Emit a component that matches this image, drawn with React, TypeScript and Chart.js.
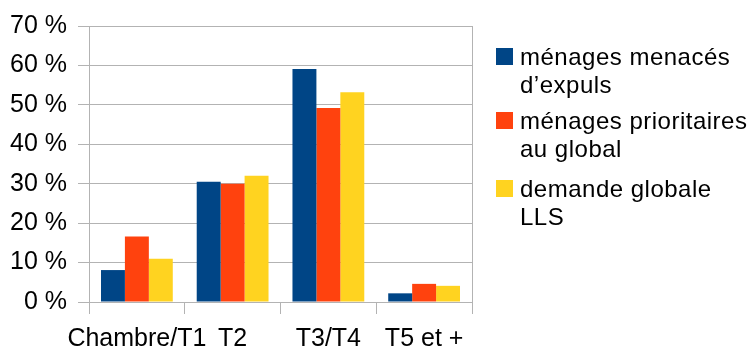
import React, { useEffect, useRef } from "react";
import { Chart, registerables } from "chart.js";

Chart.register(...registerables);

// Housing size categories and the share of each household group (in %)
const categories = ["Chambre/T1", "T2", "T3/T4", "T5 et +"];
const menacesExpulsion = [8.1, 30.5, 59.1, 2.2];
const prioritairesGlobal = [16.6, 30, 49.2, 4.6];
const demandeGlobale = [11, 32, 53.2, 4.1];
const seriesLabels = [
  ["ménages menacés", "d’expuls"],
  ["ménages prioritaires", "au global"],
  ["demande globale", "LLS"],
];
const seriesColors = ["#004586", "#ff420e", "#ffd320"];
const yTicks = [0, 10, 20, 30, 40, 50, 60, 70];

const FONT = '"Liberation Sans", Arial, sans-serif';
const GRID = "#b3b3b3";

export default function App() {
  const canvasRef = useRef<HTMLCanvasElement | null>(null);

  useEffect(() => {
    const canvas = canvasRef.current;
    if (!canvas) return;
    const chart = new Chart(canvas, {
      type: "bar",
      data: {
        labels: categories,
        datasets: [menacesExpulsion, prioritairesGlobal, demandeGlobale].map(
          (values, i) => ({
            label: seriesLabels[i].join(" "),
            data: values,
            backgroundColor: seriesColors[i],
            borderWidth: 0,
            barPercentage: 1,
            categoryPercentage: 0.75,
          })
        ),
      },
      options: {
        responsive: false,
        animation: false,
        devicePixelRatio: 1,
        layout: { padding: { left: 0, right: 283, top: 20, bottom: 0 } },
        plugins: {
          legend: { display: false },
          tooltip: { enabled: false },
        },
        scales: {
          x: {
            offset: true,
            grid: {
              offset: true,
              drawOnChartArea: true,
              // only the outer frame lines reach into the plot area
              color: (ctx: any) =>
                ctx.index === 0 || ctx.index === undefined ? GRID : "rgba(0,0,0,0)",
              tickColor: GRID,
              tickLength: 12,
              lineWidth: 1,
            },
            border: { color: GRID, width: 1 },
            ticks: {
              color: "#000",
              font: { family: FONT, size: 25 },
              padding: 10,
              maxRotation: 0,
              autoSkip: false,
            },
            afterFit: (scale: any) => {
              scale.height = 45;
            },
          },
          y: {
            min: yTicks[0],
            max: yTicks[yTicks.length - 1],
            afterBuildTicks: (scale: any) => {
              scale.ticks = yTicks.map((v) => ({ value: v }));
            },
            grid: {
              color: GRID,
              tickColor: GRID,
              tickLength: 11,
              lineWidth: 1,
            },
            border: { color: GRID, width: 1 },
            ticks: {
              color: "#000",
              font: { family: FONT, size: 25 },
              padding: 11,
              callback: (v: any) => `${v} %`,
            },
            afterFit: (scale: any) => {
              scale.width = 89;
            },
          },
        },
      },
    });
    return () => chart.destroy();
  }, []);

  const legendTops = [43, 107, 175];

  return (
    <div
      style={{
        position: "absolute",
        left: 0,
        top: 0,
        width: 755,
        height: 347,
        background: "#fff",
        fontFamily: FONT,
      }}
    >
      <canvas ref={canvasRef} width={755} height={347} style={{ width: 755, height: 347 }} />
      {seriesLabels.map((lines, i) => (
        <div
          key={i}
          style={{
            position: "absolute",
            left: 496,
            top: legendTops[i],
            display: "flex",
            alignItems: "flex-start",
          }}
        >
          <div
            style={{
              width: 17,
              height: 17,
              marginTop: 5,
              background: seriesColors[i],
              flex: "none",
            }}
          />
          <div
            style={{
              marginLeft: 7,
              fontSize: 24,
              letterSpacing: 0.5,
              lineHeight: "28px",
              color: "#000",
              whiteSpace: "nowrap",
            }}
          >
            {lines.map((t, j) => (
              <div key={j}>{t}</div>
            ))}
          </div>
        </div>
      ))}
    </div>
  );
}
